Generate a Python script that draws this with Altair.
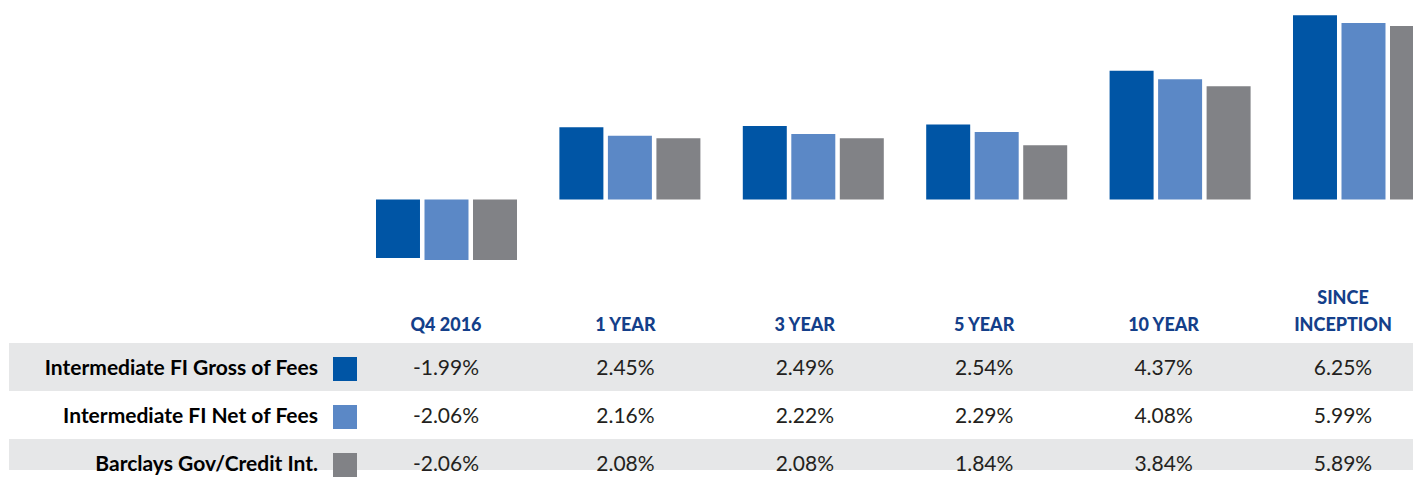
import altair as alt
import pandas as pd

periods = ["Q4 2016", "1 YEAR", "3 YEAR", "5 YEAR", "10 YEAR", "SINCE INCEPTION"]
series = ["Intermediate FI Gross of Fees", "Intermediate FI Net of Fees", "Barclays Gov/Credit Int."]
gross = [-1.99, 2.45, 2.49, 2.54, 4.37, 6.25]
net = [-2.06, 2.16, 2.22, 2.29, 4.08, 5.99]
bench = [-2.06, 2.08, 2.08, 1.84, 3.84, 5.89]
header_lines = [["Q4 2016"], ["1 YEAR"], ["3 YEAR"], ["5 YEAR"], ["10 YEAR"], ["SINCE", "INCEPTION"]]
colors = ["#0055a5", "#5b88c6", "#818286"]

W = 1405
TOP_H = 268
BOT_H = 194
ROW_PX = 48.0

rows = []
for si, (name, vals) in enumerate(zip(series, [gross, net, bench])):
    for p, v in zip(periods, vals):
        rows.append({"period": p, "series": name, "value": v, "r": si, "label": f"{v:.2f}%"})
df = pd.DataFrame(rows)

df_series = pd.DataFrame({"series": series, "r": list(range(len(series)))})
df_bands = pd.DataFrame({"r": [0, 2]})
df_bands["y0"] = df_bands["r"] - 0.54
df_bands["y1"] = df_bands["r"] + 0.46

hdr = []
for p, lines in zip(periods, header_lines):
    n = len(lines)
    for i, t in enumerate(lines):
        hdr.append({"period": p, "text": t, "hr": -0.79 - (n - 1 - i) * 0.5625})
df_hdr = pd.DataFrame(hdr)


def bar_xscale():
    return alt.Scale(domain=periods, range=[346.8, 1447.2], paddingInner=0, paddingOuter=0)


def table_xscale():
    return alt.Scale(domain=periods, range=[348.3, 1424.7], paddingInner=0, paddingOuter=0)


color_scale = alt.Scale(domain=series, range=colors)

bars = alt.Chart(df).mark_bar(clip=True).encode(
    x=alt.X("period:N", scale=bar_xscale(), sort=periods, axis=None),
    xOffset=alt.XOffset("series:N", sort=series,
                        scale=alt.Scale(domain=series, paddingInner=0.093, paddingOuter=0.437)),
    y=alt.Y("value:Q", scale=alt.Scale(domain=[-2.6, 6.5], nice=False, zero=False), axis=None),
    color=alt.Color("series:N", scale=color_scale, legend=None),
).properties(width=W, height=TOP_H)

d0 = -(369 - 276) / ROW_PX
yscale = alt.Scale(domain=[d0, d0 + BOT_H / ROW_PX], reverse=True, nice=False, zero=False)

bands = alt.Chart(df_bands).mark_rect(color="#e6e7e8", clip=True).encode(
    y=alt.Y("y0:Q", scale=yscale, axis=None),
    y2="y1:Q",
    x=alt.value(1),
    x2=alt.value(W),
)

values = alt.Chart(df).mark_text(font="Lato", fontSize=21, color="#231f20", baseline="middle").encode(
    x=alt.X("period:N", scale=table_xscale(), sort=periods, axis=None),
    y=alt.Y("r:Q", scale=yscale, axis=None),
    text="label:N",
)

labels = alt.Chart(df_series).mark_text(font="Lato", fontSize=21, fontWeight="bold", color="#000000",
                                        baseline="middle", align="right").encode(
    x=alt.value(310),
    y=alt.Y("r:Q", scale=yscale, axis=None),
    text="series:N",
)

swatches = alt.Chart(df_series).mark_square(size=576, opacity=1, filled=True).encode(
    x=alt.value(337),
    y=alt.Y("r:Q", scale=yscale, axis=None),
    color=alt.Color("series:N", scale=color_scale, legend=None),
)

header = alt.Chart(df_hdr).mark_text(font="Lato", fontSize=18, fontWeight=900, color="#143f8a",
                                     baseline="alphabetic").encode(
    x=alt.X("period:N", scale=table_xscale(), sort=periods, axis=None),
    y=alt.Y("hr:Q", scale=yscale, axis=None),
    text="text:N",
)

table = alt.layer(bands, values, labels, swatches, header).properties(width=W, height=BOT_H)

chart = alt.vconcat(bars, table, spacing=0).resolve_scale(
    x="independent", y="independent"
).properties(padding=0).configure_view(stroke=None)

chart.save("out.html", embed_options={"renderer": "svg", "actions": False})
